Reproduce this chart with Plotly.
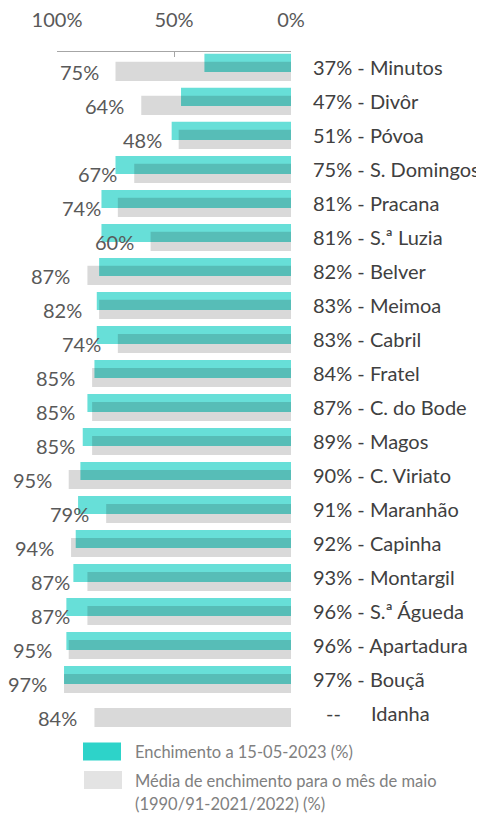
import plotly.graph_objects as go

names = ["Minutos", "Divôr", "Póvoa", "S. Domingos", "Pracana", "S.ª Luzia", "Belver",
         "Meimoa", "Cabril", "Fratel", "C. do Bode", "Magos", "C. Viriato", "Maranhão",
         "Capinha", "Montargil", "S.ª Águeda", "Apartadura", "Bouçã", "Idanha"]
current = [37, 47, 51, 75, 81, 81, 82, 83, 83, 84, 87, 89, 90, 91, 92, 93, 96, 96, 97, None]
average = [75, 64, 48, 67, 74, 60, 87, 82, 74, 85, 85, 85, 95, 79, 94, 87, 87, 95, 97, 84]
tick_vals = [100, 50, 0]
tick_text = ["100%", "50%", "0%"]
legend_cur = "Enchimento a 15-05-2023 (%)"
legend_avg_1 = "Média de enchimento para o mês de maio"
legend_avg_2 = "(1990/91-2021/2022) (%)"

# the page body has an 8px margin; size the figure so it fills the window
OFF = 8
W, H = 484 - OFF, 814 - OFF
ML, MR, MT, MB = 57 - OFF, 193, 52 - OFF, 84
PW, PH = W - ML - MR, H - MT - MB

def px(x):
    return (x - OFF - ML) / PW

def py(y):
    return (H + OFF - MB - y) / PH

FONT = "Lato"

fig = go.Figure()
fig.add_trace(go.Bar(
    y=names, x=current, orientation="h",
    marker=dict(color="rgba(45,211,201,0.72)", line=dict(width=0)),
    offset=-0.385, width=0.53, hoverinfo="x+y", showlegend=False,
))
fig.add_trace(go.Bar(
    y=names, x=average, orientation="h",
    marker=dict(color="rgba(0,0,0,0.15)", line=dict(width=0)),
    offset=-0.15, width=0.56, hoverinfo="x+y", showlegend=False,
))

annotations = []
for n, c, a in zip(names, current, average):
    annotations.append(dict(
        x=a, y=n, xref="x", yref="y", text=f"{a}%", showarrow=False,
        xanchor="right", yanchor="middle", xshift=-15, yshift=-5,
        font=dict(family=FONT, size=20, color="#595959"),
    ))
    if c is None:
        annotations.append(dict(
            x=1, y=n, xref="paper", yref="y", text="--", showarrow=False,
            xanchor="center", yanchor="middle", xshift=42,
            font=dict(family=FONT, size=20, color="#404040"),
        ))
        annotations.append(dict(
            x=1, y=n, xref="paper", yref="y", text=n, showarrow=False,
            xanchor="left", yanchor="middle", xshift=78,
            font=dict(family=FONT, size=20, color="#404040"),
        ))
    else:
        annotations.append(dict(
            x=1, y=n, xref="paper", yref="y", text=f"{c}% - {n}", showarrow=False,
            xanchor="left", yanchor="middle", xshift=20,
            font=dict(family=FONT, size=20, color="#404040"),
        ))

# legend
shapes = [
    dict(type="rect", xref="paper", yref="paper", x0=px(83), x1=px(121), y0=py(742.5), y1=py(760.5),
         fillcolor="#2dd3c9", line=dict(width=0)),
    dict(type="rect", xref="paper", yref="paper", x0=px(84), x1=px(122), y0=py(771), y1=py(789),
         fillcolor="#e3e3e3", line=dict(width=0)),
]
for txt, yc in [(legend_cur, 752), (legend_avg_1, 781), (legend_avg_2, 804)]:
    annotations.append(dict(
        x=px(133), y=py(yc), xref="paper", yref="paper", text=txt, showarrow=False,
        xanchor="left", yanchor="middle", font=dict(family=FONT, size=16.5, color="#808080"),
    ))

fig.update_layout(
    width=W, height=H,
    margin=dict(l=ML, r=MR, t=MT, b=MB, autoexpand=False),
    paper_bgcolor="white", plot_bgcolor="white",
    barmode="overlay",
    showlegend=False,
    annotations=annotations,
    shapes=shapes,
    xaxis=dict(
        range=[100, 0], side="top", tickvals=tick_vals, ticktext=tick_text,
        showgrid=False, zeroline=False, showline=True, linecolor="#a6a6a6", linewidth=1,
        ticks="inside", ticklen=5, tickcolor="#a6a6a6",
        ticklabelstandoff=16, automargin=False,
        tickfont=dict(family=FONT, size=20, color="#595959"),
    ),
    yaxis=dict(
        type="category", range=[19.5, -0.44], showticklabels=False, automargin=False,
        showgrid=False, zeroline=False, showline=False, ticks="",
    ),
)

fig.write_html("out.html")
